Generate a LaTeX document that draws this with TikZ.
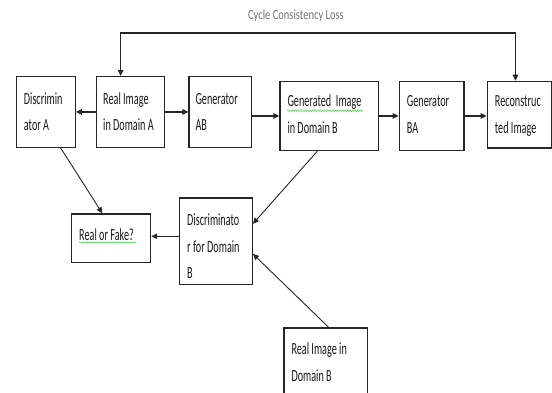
\documentclass[tikz,border=0pt]{standalone}
\usepackage{fontspec}
\setmainfont{Carlito}[FakeStretch=0.6]
\newfontfamily\lblfont{Carlito}[FakeStretch=0.75]
\usetikzlibrary{arrows.meta,decorations.pathmorphing}
\begin{document}
\begin{tikzpicture}[x=1pt,y=1pt,
  box/.style={draw=black!85, line width=1.2pt, rectangle, inner sep=0pt, anchor=north west},
  txt/.style={anchor=base west, inner sep=0pt, align=left, font=\fontsize{17}{26.7}\selectfont, text=black!90},
  lbl/.style={inner sep=0pt, font=\lblfont\fontsize{14}{16}\selectfont, text=black!55},
  conn/.style={draw=black!85, line width=1.2pt, -{Triangle[length=6pt,width=5.5pt]}},
  diag/.style={conn, line width=0.9pt},
  cyc/.style={draw=black!85, line width=1.2pt, {Triangle[length=6pt,width=5.5pt]}-{Triangle[length=6pt,width=5.5pt]}},
  squig/.style={draw=green!70!black!60, line width=0.6pt, decorate, decoration={snake, amplitude=0.7pt, segment length=2.5pt}}]
\useasboundingbox (0,0) rectangle (552,-392);
\fill[white] (0,0) rectangle (552,-392);
% boxes
\node[box, minimum width=59pt, minimum height=70.7pt] (discA) at (15.7,-76) {};
\node[box, minimum width=68pt, minimum height=70.7pt] (realA) at (96,-76) {};
\node[box, minimum width=62.4pt, minimum height=70.7pt] (genAB) at (188.3,-76) {};
\node[box, minimum width=98.4pt, minimum height=69.3pt] (genB) at (279.3,-80.7) {};
\node[box, minimum width=64.6pt, minimum height=69.3pt] (genBA) at (398.7,-80.7) {};
\node[box, minimum width=64.4pt, minimum height=66.6pt] (recon) at (486.7,-80.7) {};
\node[box, minimum width=79pt, minimum height=48.4pt] (rof) at (71,-213.3) {};
\node[box, minimum width=72.7pt, minimum height=86.7pt] (discB) at (179,-197.3) {};
\node[box, minimum width=83.4pt, minimum height=70pt] (realB) at (283.3,-327.3) {};
% texts (base anchor = last line)
\node[txt] (discA-t) at ([shift={(8pt,-54.7pt)}]discA.north west) {Discrimin\\ator A};
\node[txt] (realA-t) at ([shift={(7pt,-54.7pt)}]realA.north west) {Real Image\\in Domain A};
\node[txt] (genAB-t) at ([shift={(7pt,-54.7pt)}]genAB.north west) {Generator\\AB};
\node[txt] (genB-t) at ([shift={(8pt,-52.7pt)}]genB.north west) {Generated\ \ Image\\in Domain B};
\node[txt] (genBA-t) at ([shift={(8pt,-52.7pt)}]genBA.north west) {Generator\\BA};
\node[txt] (recon-t) at ([shift={(8pt,-52.7pt)}]recon.north west) {Reconstruc\\ted Image};
\node[txt] (rof-t) at ([shift={(8pt,-27pt)}]rof.north west) {Real or Fake?};
\node[txt] (discB-t) at ([shift={(8pt,-81.4pt)}]discB.north west) {Discriminato\\r for Domain\\B};
\node[txt] (realB-t) at ([shift={(8pt,-53.7pt)}]realB.north west) {Real Image in\\Domain B};
\node[lbl] (cycl) at (296,-16) {Cycle Consistency Loss};
% spell-check underlines
\draw[squig] (287,-110.7) -- (363,-110.7);
\draw[squig] (79,-242.5) -- (136,-242.5);
% connectors
\draw[conn] (realA.west) -- (discA.east);
\draw[conn] (realA.east) -- (genAB.west);
\draw[conn] (genAB.east |- genB.west) -- (genB.west);
\draw[conn] (genB.east) -- (genBA.west);
\draw[conn] (genBA.east) -- (genBA.east -| recon.west);
\draw[cyc] ([xshift=-10pt]realA.north) |- ([xshift=-4pt,yshift=47.7pt]recon.north) -- ([xshift=-4pt]recon.north);
\draw[diag] ([xshift=14.8pt]discA.south) -- ([xshift=-8.8pt]rof.north);
\draw[diag] ([xshift=-11.8pt]genB.south) -- ([yshift=17.4pt]discB.east);
\draw[diag] ([xshift=3pt]realB.north) -- ([yshift=-12.6pt]discB.east);
\draw[conn] ([yshift=5pt]discB.west) -- ([yshift=5pt]discB.west -| rof.east);
\end{tikzpicture}
\end{document}
